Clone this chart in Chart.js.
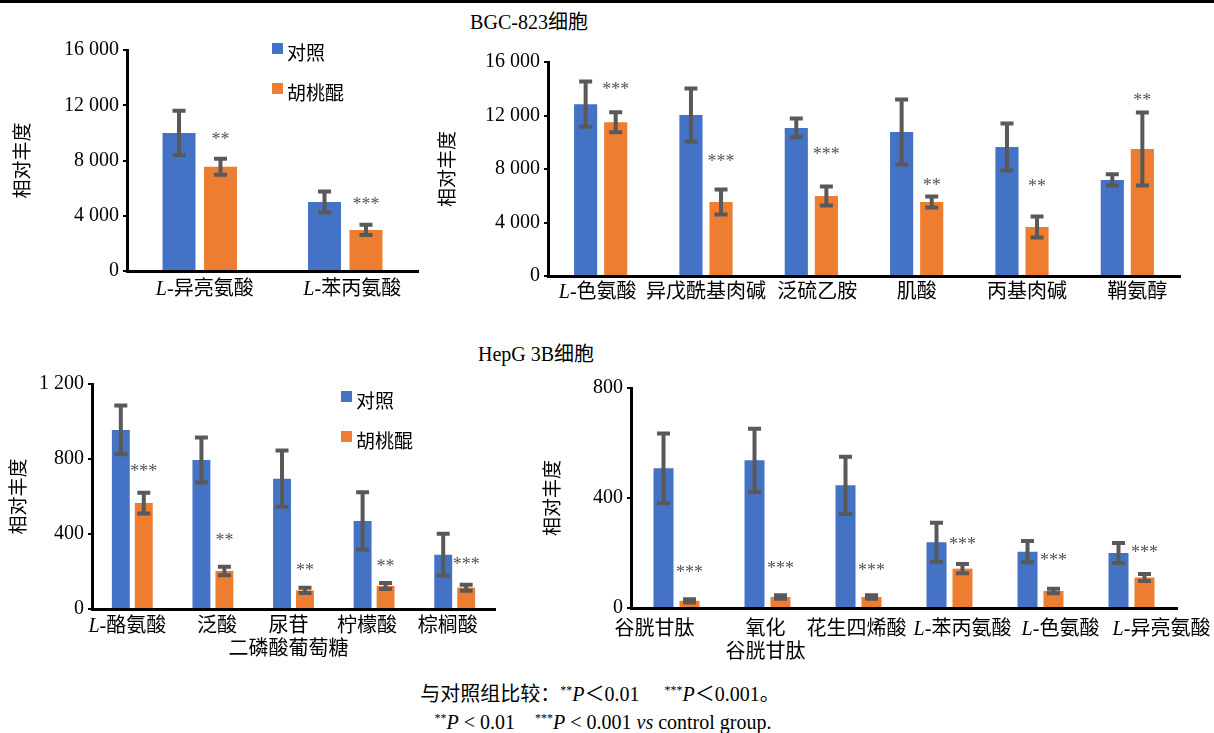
<!DOCTYPE html>
<html>
<head>
<meta charset="utf-8">
<script src="https://cdn.jsdelivr.net/npm/chart.js@4.4.0/dist/chart.umd.min.js"></script>
<style>
  body { margin: 0; width: 1214px; height: 733px; background: #fff; position: relative; overflow: hidden;
         font-family: 'Liberation Serif', 'Noto Sans CJK SC', serif; color: #000; }
  .topline { position: absolute; left: 0; top: 0; width: 1214px; height: 3px; background: #000; }
  .title { position: absolute; font-size: 20px; transform: translate(-50%, -50%); white-space: nowrap; }
  .box { position: absolute; }
  .leg { position: absolute; font-size: 19px; font-family: 'Noto Sans CJK SC', sans-serif; white-space: nowrap; }
  .leg span.sq { position: absolute; width: 11px; height: 11px; }
  .leg span.tx { position: absolute; transform: translateY(-50%); line-height: 1; }
  .note { position: absolute; font-size: 20px; white-space: nowrap; transform: translate(-50%, -50%); }
  .note sup { font-size: 12px; vertical-align: 7px; }
  .note i { font-style: italic; }
</style>
</head>
<body>
<div class="topline"></div>
<div class="title" style="left:529px;top:20px">BGC-823细胞</div>
<div class="title" style="left:536px;top:352px">HepG 3B细胞</div>

<div class="box" style="left:0;top:30px"><canvas id="c1" width="430" height="290"></canvas></div>
<div class="box" style="left:430px;top:30px"><canvas id="c2" width="784" height="290"></canvas></div>
<div class="box" style="left:0;top:350px"><canvas id="c3" width="520" height="315"></canvas></div>
<div class="box" style="left:520px;top:350px"><canvas id="c4" width="694" height="315"></canvas></div>

<div id="leg1" class="leg" style="left:272px;top:43px"></div>
<div id="leg3" class="leg" style="left:341px;top:391px"></div>

<div class="note" style="left:600px;top:692px">与对照组比较：<sup>**</sup><i>P</i>＜0.01&nbsp;&nbsp;&nbsp;&nbsp;&nbsp;<sup>***</sup><i>P</i>＜0.001。</div>
<div class="note" style="left:603px;top:722px"><sup>**</sup><i>P</i> &lt; 0.01&nbsp;&nbsp;&nbsp;&nbsp;<sup>***</sup><i>P</i> &lt; 0.001 <i>vs</i> control group.</div>

<script>
// Séries
const seriesNames = ['对照', '胡桃醌'];
const seriesColors = ['#4472C4', '#ED7D31'];

// BGC-823 - gauche
const bgcLabelsA = ['L-异亮氨酸', 'L-苯丙氨酸'];
const bgcCtrlA = [10000, 5000];
const bgcCtrlSdA = [1600, 760];
const bgcJugA = [7550, 2970];
const bgcJugSdA = [580, 370];
const bgcStarsA = ['**', '***'];
const bgcStarYA = [9700, 5000];

// BGC-823 - droite
const bgcLabelsB = ['L-色氨酸', '异戊酰基肉碱', '泛硫乙胺', '肌酸', '丙基肉碱', '鞘氨醇'];
const bgcCtrlB = [12850, 12030, 11070, 10760, 9650, 7180];
const bgcCtrlSdB = [1690, 1980, 700, 2430, 1760, 420];
const bgcJugB = [11500, 5530, 5980, 5530, 3660, 9500];
const bgcJugSdB = [750, 930, 710, 410, 790, 2730];
const bgcStarsB = ['***', '***', '***', '**', '**', '**'];
const bgcStarYB = [14130, 8750, 9270, 6950, 6880, 13300];
const bgcMax = 16000;
const bgcStep = 4000;

// HepG 3B - gauche
const hepLabelsA = ['L-酪氨酸', '泛酸', ['尿苷', '二磷酸葡萄糖'], '柠檬酸', '棕榈酸'];
const hepCtrlA = [955, 795, 695, 470, 290];
const hepCtrlSdA = [130, 120, 150, 153, 111];
const hepJugA = [565, 203, 99, 123, 114];
const hepJugSdA = [55, 23, 14, 16, 16];
const hepStarsA = ['***', '**', '**', '**', '***'];
const hepStarYA = [743, 379, 219, 236, 251];
const hepMaxA = 1200;
const hepStepA = 400;

// HepG 3B - droite
const hepLabelsB = ['谷胱甘肽', ['氧化', '谷胱甘肽'], '花生四烯酸', 'L-苯丙氨酸', 'L-色氨酸', 'L-异亮氨酸'];
const hepCtrlB = [508, 537, 446, 239, 205, 200];
const hepCtrlSdB = [127, 115, 104, 71, 39, 36];
const hepJugB = [26, 40, 40, 143, 62, 111];
const hepJugSdB = [6, 6, 6, 17, 8, 13];
const hepStarsB = ['***', '***', '***', '***', '***', '***'];
const hepStarYB = [138, 153, 145, 240, 182, 211];
const hepMaxB = 800;
const hepStepB = 400;

const serif = "'Liberation Serif', 'Noto Sans CJK SC', serif";

// Barres d'erreur + étoiles
const errorBars = {
    id: 'errorBars',
    afterDatasetsDraw(chart) {
        const ctx = chart.ctx;
        const y = chart.scales.y;
        chart.data.datasets.forEach((ds, i) => {
            chart.getDatasetMeta(i).data.forEach((bar, j) => {
                const top = y.getPixelForValue(ds.data[j] + ds.sd[j]);
                const bot = y.getPixelForValue(ds.data[j] - ds.sd[j]);
                ctx.save();
                ctx.strokeStyle = '#595959';
                ctx.lineWidth = 4;
                ctx.beginPath();
                ctx.moveTo(bar.x, top); ctx.lineTo(bar.x, bot);
                ctx.moveTo(bar.x - 6.5, top); ctx.lineTo(bar.x + 6.5, top);
                ctx.moveTo(bar.x - 6.5, bot); ctx.lineTo(bar.x + 6.5, bot);
                ctx.stroke();
                if (ds.stars) {
                    ctx.fillStyle = '#555';
                    ctx.font = '18px ' + serif;
                    ctx.textAlign = 'center';
                    ctx.textBaseline = 'middle';
                    ctx.fillText(ds.stars[j], bar.x, y.getPixelForValue(ds.starY[j]) + 3);
                }
                ctx.restore();
            });
        });
    }
};

// Étiquettes de l'axe x (L en italique)
const xLabels = {
    id: 'xLabels',
    afterDraw(chart, args, opts) {
        const ctx = chart.ctx;
        const x = chart.scales.x;
        const shift = opts.shift || [];
        ctx.save();
        ctx.fillStyle = '#000';
        ctx.textAlign = 'left';
        ctx.textBaseline = 'middle';
        chart.data.labels.forEach((lab, i) => {
            const lines = Array.isArray(lab) ? lab : [lab];
            lines.forEach((line, k) => {
                const cx = x.getPixelForTick(i) + (shift[i] || 0);
                const cy = x.top + opts.offset + k * 23;
                let head = '';
                let rest = line;
                if (line.startsWith('L-')) {
                    head = 'L';
                    rest = line.slice(1);
                }
                ctx.font = 'italic 20px ' + serif;
                const wh = head ? ctx.measureText(head).width : 0;
                ctx.font = '20px ' + serif;
                const wr = ctx.measureText(rest).width;
                let sx = cx - (wh + wr) / 2;
                if (head) {
                    ctx.font = 'italic 20px ' + serif;
                    ctx.fillText(head, sx, cy);
                    sx += wh;
                }
                ctx.font = '20px ' + serif;
                ctx.fillText(rest, sx, cy);
            });
        });
        ctx.restore();
    }
};

// Format "16 000"
function fmt(v) {
    return String(v).replace(/\B(?=(\d{3})+(?!\d))/g, ' ');
}

function makeChart(id, c) {
    new Chart(document.getElementById(id), {
        type: 'bar',
        data: {
            labels: c.labels,
            datasets: [
                { label: seriesNames[0], data: c.ctrl, sd: c.ctrlSd, backgroundColor: seriesColors[0],
                  categoryPercentage: c.cat, barPercentage: c.bar },
                { label: seriesNames[1], data: c.jug, sd: c.jugSd, backgroundColor: seriesColors[1],
                  categoryPercentage: c.cat, barPercentage: c.bar, stars: c.stars, starY: c.starY }
            ]
        },
        options: {
            responsive: false,
            animation: false,
            devicePixelRatio: 1,
            layout: { padding: c.pad },
            plugins: {
                legend: { display: false },
                tooltip: { enabled: false },
                xLabels: { shift: c.shift, offset: c.xOff }
            },
            scales: {
                x: {
                    grid: { display: false, drawTicks: false },
                    border: { color: '#000', width: 3 },
                    ticks: { display: false },
                    afterFit: s => { s.height = c.xH; }
                },
                y: {
                    min: 0, max: c.max,
                    ticks: { stepSize: c.step, color: '#000', font: { family: serif, size: 20 }, padding: 4, callback: fmt },
                    grid: { drawOnChartArea: false, tickLength: 4, color: '#000', lineWidth: 2 },
                    border: { color: '#000', width: 3 },
                    title: { display: true, text: '相对丰度', color: '#000', padding: 0,
                             font: { family: "'Noto Sans CJK SC', sans-serif", size: 19, lineHeight: 1 } },
                    afterFit: s => { s.width = c.yW; }
                }
            }
        },
        plugins: [errorBars, xLabels]
    });
}

// Légende HTML
function makeLegend(id) {
    const el = document.getElementById(id);
    seriesNames.forEach((name, i) => {
        const sq = document.createElement('span');
        sq.className = 'sq';
        sq.style.top = (i * 40) + 'px';
        sq.style.background = seriesColors[i];
        const tx = document.createElement('span');
        tx.className = 'tx';
        tx.style.left = '15px';
        tx.style.top = (i * 40 + 8) + 'px';
        tx.textContent = name;
        el.appendChild(sq);
        el.appendChild(tx);
    });
}

makeChart('c1', { labels: bgcLabelsA, ctrl: bgcCtrlA, ctrlSd: bgcCtrlSdA, jug: bgcJugA, jugSd: bgcJugSdA,
    stars: bgcStarsA, starY: bgcStarYA, max: bgcMax, step: bgcStep, cat: 0.57, bar: 0.795,
    pad: { left: 12, top: 20, right: 12, bottom: 0 }, yW: 115, xH: 49, xOff: 19, shift: [5, 7] });

makeChart('c2', { labels: bgcLabelsB, ctrl: bgcCtrlB, ctrlSd: bgcCtrlSdB, jug: bgcJugB, jugSd: bgcJugSdB,
    stars: bgcStarsB, starY: bgcStarYB, max: bgcMax, step: bgcStep, cat: 0.571, bar: 0.77,
    pad: { left: 7, top: 32, right: 34, bottom: 0 }, yW: 111, xH: 44, xOff: 17, shift: [-3, 0, 6, 0, 5, 10] });

makeChart('c3', { labels: hepLabelsA, ctrl: hepCtrlA, ctrlSd: hepCtrlSdA, jug: hepJugA, jugSd: hepJugSdA,
    stars: hepStarsA, starY: hepStarYA, max: hepMaxA, step: hepStepA, cat: 0.57, bar: 0.78,
    pad: { left: 8, top: 34, right: 25, bottom: 0 }, yW: 84, xH: 56, xOff: 18, shift: [-5, 4, -5, -7, -7] });

makeChart('c4', { labels: hepLabelsB, ctrl: hepCtrlB, ctrlSd: hepCtrlSdB, jug: hepJugB, jugSd: hepJugSdB,
    stars: hepStarsB, starY: hepStarYB, max: hepMaxB, step: hepStepB, cat: 0.571, bar: 0.77,
    pad: { left: 22, top: 38, right: 37, bottom: 0 }, yW: 89, xH: 57, xOff: 22, shift: [-22, -2, -2, 13, 20, 30] });

makeLegend('leg1');
makeLegend('leg3');
</script>
</body>
</html>
